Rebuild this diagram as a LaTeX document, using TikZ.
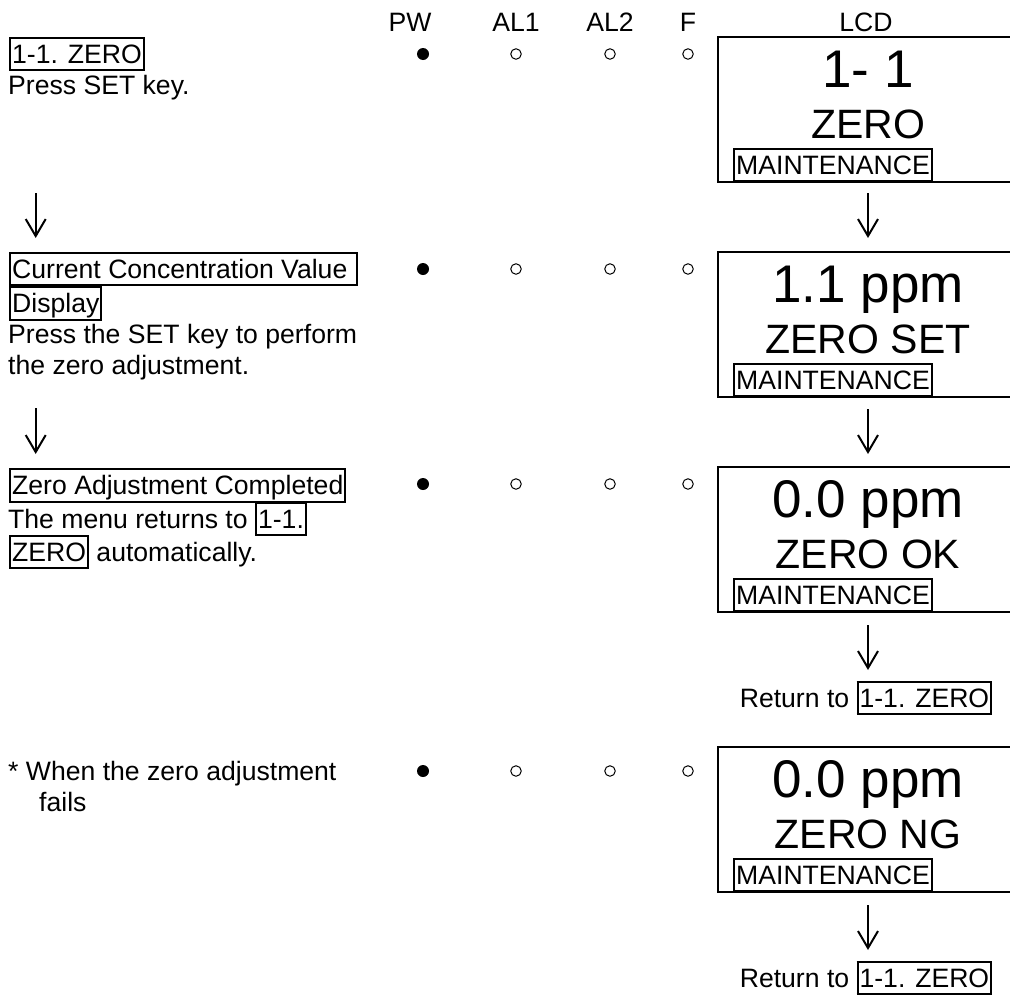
\documentclass[tikz,border=0pt]{standalone}
\usepackage{fontspec}
\setmainfont{Liberation Sans}
\usetikzlibrary{arrows.meta}
\setlength\fboxrule{2pt}
\setlength\fboxsep{1pt}
\newcommand\bx[1]{\fbox{\rule[-0.2em]{0pt}{1.06em}#1}}
\tikzset{
  txt/.style={anchor=base west, inner sep=0pt, font=\fontsize{26.6pt}{31pt}\selectfont},
  hdr/.style={anchor=base, inner sep=0pt, font=\fontsize{26.6pt}{31pt}\selectfont},
  bigline/.style={anchor=base, inner sep=0pt, font=\fontsize{53pt}{60pt}\selectfont},
  midline/.style={anchor=base, inner sep=0pt, font=\fontsize{41pt}{48pt}\selectfont},
  ledon/.style={circle, fill=black, inner sep=0pt, minimum size=12pt},
  ledoff/.style={circle, draw=black, line width=1pt, inner sep=0pt, minimum size=10.5pt},
  lcdframe/.style={line width=2.5pt},
  flow/.style={line width=2pt, -{Straight Barb[length=17pt,width=20pt]}},
}
\begin{document}
\begin{tikzpicture}[x=1pt,y=-1pt]
\useasboundingbox (0,0) rectangle (1010,996);
% header
\node[hdr] (hpw) at (410,31) {PW};
\node[hdr] (hal1) at (516,31) {AL1};
\node[hdr] (hal2) at (610,31) {AL2};
\node[hdr] (hf) at (688,31) {F};
\node[hdr] (hlcd) at (866,31) {LCD};

% LED rows
\foreach \r/\y in {1/54, 2/269, 3/484, 4/771}{
  \node[ledon] (pw\r) at (423,\y) {};
  \node[ledoff] (al1\r) at (516,\y) {};
  \node[ledoff] (al2\r) at (610,\y) {};
  \node[ledoff] (f\r) at (688,\y) {};
}

% left column texts
\node[txt] (t1a) at (9,63) {\bx{1-1. ZERO}};
\node[txt] (t1b) at (8,94) {Press SET key.};

\node[txt] (t2a) at (9,278) {\bx{Current Concentration Value\ }};
\node[txt] (t2b) at (9,312) {\bx{Display}};
\node[txt] (t2c) at (8,343) {Press the SET key to perform};
\node[txt] (t2d) at (8,374) {the zero adjustment.};

\node[txt] (t3a) at (9,494) {\bx{Zero Adjustment Completed}};
\node[txt] (t3b) at (8,528) {The menu returns to \bx{1-1.}};
\node[txt] (t3c) at (9,561) {\bx{ZERO} automatically.};

\node[txt] (t4a) at (8,780) {* When the zero adjustment};
\node[txt] (t4b) at (39,811) {fails};

% LCD frames
\foreach \n/\t in {1/37, 2/252, 3/467, 4/747}{
  \draw[lcdframe] (1012,\t) -- (718,\t) -- (718,\t+145) -- (1012,\t+145);
}
% LCD 1
\node[bigline] (l1a) at (868,87) {1- 1};
\node[midline] (l1b) at (868,138) {ZERO};
\node[txt] (l1c) at (733,174) {\bx{MAINTENANCE}};
% LCD 2
\node[bigline] (l2a) at (868,302) {1.1 ppm};
\node[midline] (l2b) at (868,353) {ZERO SET};
\node[txt] (l2c) at (733,389) {\bx{MAINTENANCE}};
% LCD 3
\node[bigline] (l3a) at (868,517) {0.0 ppm};
\node[midline] (l3b) at (868,568) {ZERO OK};
\node[txt] (l3c) at (733,604) {\bx{MAINTENANCE}};
% LCD 4
\node[bigline] (l4a) at (868,797) {0.0 ppm};
\node[midline] (l4b) at (868,848) {ZERO NG};
\node[txt] (l4c) at (733,884) {\bx{MAINTENANCE}};

% return texts
\node[hdr] (r3) at (866,707) {Return to \bx{1-1. ZERO}};
\node[hdr] (r4) at (866,987) {Return to \bx{1-1. ZERO}};

% arrows
\coordinate (a1s) at (35.7,193); \coordinate (a1e) at (35.7,238);
\coordinate (a2s) at (35.7,408); \coordinate (a2e) at (35.7,454);
\coordinate (b1s) at (868,193); \coordinate (b1e) at (868,238);
\coordinate (b2s) at (868,409); \coordinate (b2e) at (868,454);
\coordinate (b3s) at (868,625); \coordinate (b3e) at (868,670);
\coordinate (b4s) at (868,905); \coordinate (b4e) at (868,950);
\draw[flow] (a1s) -- (a1e);
\draw[flow] (a2s) -- (a2e);
\draw[flow] (b1s) -- (b1e);
\draw[flow] (b2s) -- (b2e);
\draw[flow] (b3s) -- (b3e);
\draw[flow] (b4s) -- (b4e);
\end{tikzpicture}
\end{document}
